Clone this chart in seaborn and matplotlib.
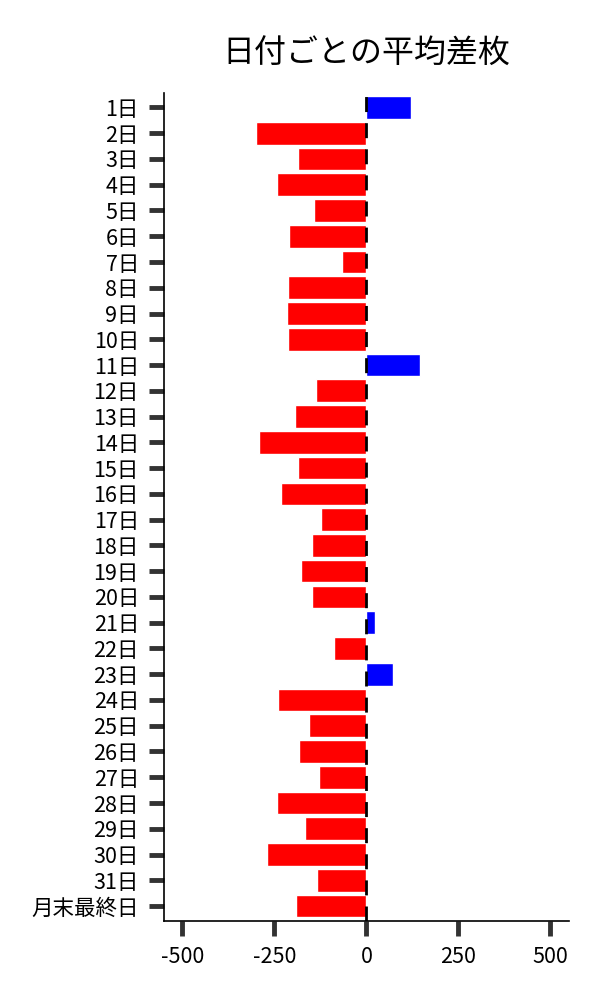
import matplotlib
matplotlib.use("Agg")
import matplotlib.pyplot as plt
import seaborn as sns
import pandas as pd

days = [f"{i}日" for i in range(1, 32)] + ["月末最終日"]
avg_diff = [122, -301, -185, -244, -141, -209, -65, -214, -217, -214,
            147, -138, -195, -293, -187, -231, -122, -149, -179, -149,
            24, -87, 71, -239, -155, -182, -128, -242, -168, -269,
            -133, -190]
pos_color = "#0000ff"
neg_color = "#ff0000"
title = "日付ごとの平均差枚"
xticks = [-500, -250, 0, 250, 500]

sns.set_style("white")
plt.rcParams["font.family"] = ["Noto Sans CJK JP", "DejaVu Sans"]

df = pd.DataFrame({"day": days, "value": avg_diff})
colors = [pos_color if v >= 0 else neg_color for v in avg_diff]

fig = plt.figure(figsize=(6, 10), dpi=100)
ax = fig.add_axes([0.2733, 0.079, 0.6747, 0.828])

sns.barplot(data=df, x="value", y="day", hue="day", palette=colors,
            orient="h", dodge=False, legend=False, width=0.88,
            saturation=1, ax=ax)

line = ax.axvline(0, color="black", linewidth=2, zorder=5)
line.set_dashes((5.4, 4.0))

ax.set_xlim(-550, 550)
ax.set_ylim(len(days) - 0.42, -0.56)
ax.set_xticks(xticks)
ax.set_xticklabels([str(t) for t in xticks])
ax.set_xlabel("")
ax.set_ylabel("")
ax.set_title(title, fontsize=23, pad=22, color="black")

sns.despine(ax=ax)
for s in ["left", "bottom"]:
    ax.spines[s].set_color("black")
    ax.spines[s].set_linewidth(1.2)

ax.tick_params(axis="both", which="major", length=11, width=3.5,
               color="#333333", labelsize=15.5, pad=7, labelcolor="black")
ax.tick_params(axis="y", left=True)
ax.tick_params(axis="x", bottom=True)

fig.savefig("out.png", dpi=100)
